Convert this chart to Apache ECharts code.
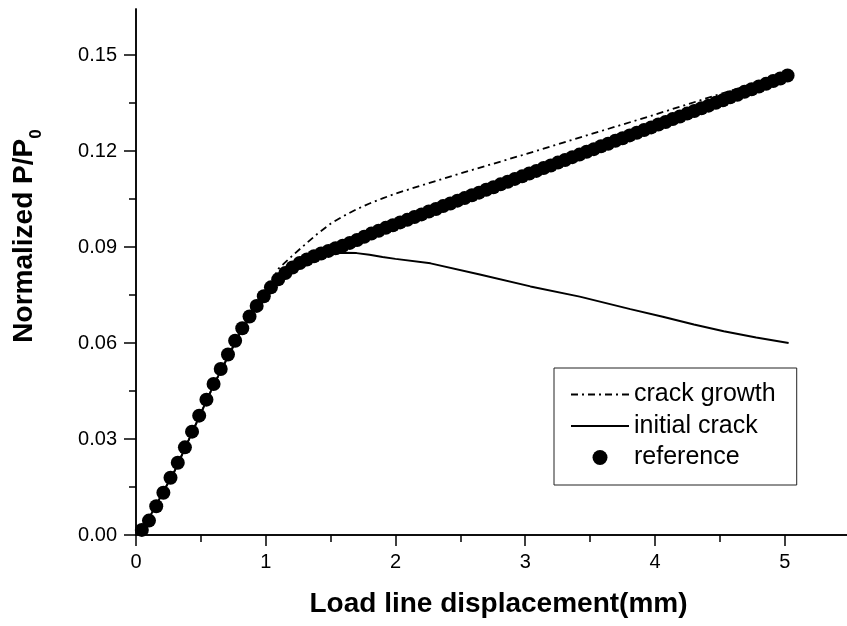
<!DOCTYPE html>
<html><head><meta charset="utf-8">
<script src="https://cdn.jsdelivr.net/npm/echarts@6/dist/echarts.min.js"></script>
<style>html,body{margin:0;padding:0;background:#fff}#c{width:847px;height:626px}</style>
</head><body><div id="c"></div>
<script>
const FONT = "'Liberation Sans', Arial, Helvetica, sans-serif";
const xTicks = [0, 1, 2, 3, 4, 5];
const yTicks = [0, 0.03, 0.06, 0.09, 0.12, 0.15];

// reference (dots)
const refX = [0.045,0.100,0.156,0.211,0.266,0.322,0.377,0.432,0.487,0.543,0.598,0.653,0.709,0.764,0.819,0.875,0.930,0.985,1.040,1.096,
1.151,1.206,1.262,1.317,1.372,1.427,1.483,1.538,1.593,1.648,1.704,1.759,1.814,1.870,1.925,1.980,2.036,2.091,2.146,2.201,
2.257,2.312,2.367,2.423,2.478,2.533,2.589,2.644,2.699,2.755,2.810,2.865,2.920,2.976,3.031,3.086,3.142,3.197,3.252,3.307,
3.363,3.418,3.473,3.529,3.584,3.639,3.695,3.750,3.805,3.860,3.916,3.971,4.026,4.082,4.137,4.192,4.248,4.303,4.358,4.413,
4.469,4.524,4.579,4.635,4.690,4.745,4.801,4.856,4.911,4.966,5.022];
const refY = [0.0016,0.0045,0.0090,0.0132,0.0179,0.0226,0.0274,0.0323,0.0373,0.0423,0.0472,0.0519,0.0564,0.0607,0.0646,0.0683,0.0716,0.0746,0.0774,0.0799,
0.0819,0.0836,0.0850,0.0861,0.0871,0.0880,0.0888,0.0896,0.0904,0.0913,0.0922,0.0932,0.0942,0.0951,0.0960,0.0968,0.0977,0.0985,0.0994,0.1002,
0.1011,0.1019,0.1028,0.1036,0.1045,0.1053,0.1062,0.1070,0.1079,0.1087,0.1096,0.1104,0.1113,0.1121,0.1130,0.1138,0.1147,0.1155,0.1164,0.1172,
0.1181,0.1189,0.1198,0.1206,0.1215,0.1223,0.1232,0.1240,0.1249,0.1257,0.1266,0.1274,0.1283,0.1291,0.1300,0.1308,0.1317,0.1325,0.1334,0.1342,
0.1351,0.1359,0.1368,0.1376,0.1385,0.1393,0.1402,0.1410,0.1419,0.1427,0.1436];

// crack growth (dash-dot)
const growthX = [0.03,0.3,0.6,0.8,0.9,1.0,1.05,1.1,1.2,1.3,1.4,1.5,1.6,1.7,1.8,1.9,2.0,2.25,2.5,2.75,3.0,3.25,3.5,3.75,4.0,4.25,4.5,4.75,5.0,5.03];
const growthY = [0.0,0.0202,0.0470,0.0630,0.0697,0.0762,0.0797,0.0833,0.0871,0.0907,0.0942,0.0973,0.0997,0.1018,0.1036,0.1052,0.1067,0.1099,0.1130,0.1160,0.1190,0.1221,0.1252,0.1283,0.1314,0.1346,0.1378,0.1409,0.1441,0.1444];

// initial crack (solid)
const initX = [0.03,0.3,0.6,0.8,0.9,1.0,1.1,1.2,1.3,1.4,1.5,1.6,1.7,1.8,1.9,2.0,2.27,2.65,3.04,3.42,3.81,4.06,4.30,4.53,4.78,5.03];
const initY = [0.0,0.0202,0.0470,0.0630,0.0695,0.0752,0.0799,0.0833,0.0857,0.0871,0.0879,0.0882,0.0881,0.0876,0.0869,0.0863,0.0849,0.0814,0.0777,0.0745,0.0706,0.0682,0.0658,0.0637,0.0617,0.0600];

const zip = (a, b) => a.map((v, i) => [v, b[i]]);

const chart = echarts.init(document.getElementById('c'), null, {renderer: 'canvas'});
const axisLine = {show: true, lineStyle: {color: '#000', width: 1.5}};
const xCommon = {type: 'value', min: 0, max: 5.48, interval: 1, splitLine: {show: false}, axisLine: axisLine};
const yCommon = {type: 'value', min: 0, max: 0.1644, interval: 0.03, splitLine: {show: false}, axisLine: axisLine};

chart.setOption({
  animation: false,
  backgroundColor: '#fff',
  textStyle: {fontFamily: FONT},
  grid: {left: 136, right: -1, top: 9, bottom: 91, containLabel: false},
  xAxis: [
    Object.assign({}, xCommon, {
      position: 'bottom',
      name: 'Load line displacement(mm)', nameLocation: 'middle', nameGap: 55,
      nameTextStyle: {fontSize: 28, fontWeight: 'bold', color: '#000', fontFamily: FONT, padding: [0, 0, 0, 14]},
      axisTick: {show: true, inside: false, length: 11, lineStyle: {color: '#000', width: 1.5}, customValues: xTicks},
      minorTick: {show: true, splitNumber: 2, length: 7, lineStyle: {color: '#000', width: 1.5}},
      axisLabel: {show: true, fontSize: 20, color: '#000', margin: 17, fontFamily: FONT, customValues: xTicks,
        formatter: v => String(v)}
    }),
    Object.assign({}, xCommon, {
      position: 'top',
      axisTick: {show: true, inside: true, length: 11, lineStyle: {color: '#000', width: 1.5}, customValues: xTicks},
      minorTick: {show: true, splitNumber: 2, length: 7, lineStyle: {color: '#000', width: 1.5}},
      axisLabel: {show: false}
    })
  ],
  yAxis: [
    Object.assign({}, yCommon, {
      position: 'left',
      axisTick: {show: true, inside: false, length: 12, lineStyle: {color: '#000', width: 1.5}, customValues: yTicks},
      minorTick: {show: true, splitNumber: 2, length: 7, lineStyle: {color: '#000', width: 1.5}},
      axisLabel: {show: true, fontSize: 20, color: '#000', margin: 19, fontFamily: FONT, customValues: yTicks,
        formatter: v => v.toFixed(2)}
    }),
    Object.assign({}, yCommon, {
      position: 'right',
      axisTick: {show: true, inside: true, length: 12, lineStyle: {color: '#000', width: 1.5}, customValues: yTicks},
      minorTick: {show: true, splitNumber: 2, length: 7, lineStyle: {color: '#000', width: 1.5}},
      axisLabel: {show: false}
    })
  ],
  legend: {
    orient: 'vertical', left: 554, top: 368,
    backgroundColor: '#fff', borderColor: '#222', borderWidth: 1, borderRadius: 0,
    padding: [14, 21, 15, 16], itemGap: 6.5, itemWidth: 58, itemHeight: 15,
    textStyle: {fontSize: 25, color: '#000', fontFamily: FONT},
    data: [
      {name: 'crack growth', itemStyle: {opacity: 0}},
      {name: 'initial crack', itemStyle: {opacity: 0}},
      {name: 'reference', icon: 'circle', itemStyle: {color: '#000', opacity: 1}}
    ]
  },
  graphic: [{
    type: 'text', x: 24, y: 236, rotation: Math.PI / 2,
    style: {
      text: '{a|Normalized P/P}{b|0}',
      align: 'center', verticalAlign: 'middle',
      rich: {
        a: {fontSize: 28, fontWeight: 'bold', fill: '#000', fontFamily: FONT},
        b: {fontSize: 17, fontWeight: 'bold', fill: '#000', fontFamily: FONT, padding: [24, 0, 0, 0]}
      }
    }
  }],
  series: [
    {name: 'crack growth', type: 'line', data: zip(growthX, growthY), symbol: 'none', smooth: false,
      lineStyle: {color: '#000', width: 1.8, type: [7, 4, 2, 4]}, itemStyle: {color: '#000'}, z: 2},
    {name: 'initial crack', type: 'line', data: zip(initX, initY), symbol: 'none',
      lineStyle: {color: '#000', width: 2, type: 'solid'}, itemStyle: {color: '#000'}, z: 2},
    {name: 'reference', type: 'scatter', data: zip(refX, refY), symbol: 'circle', symbolSize: 14,
      itemStyle: {color: '#000', opacity: 1}, z: 3}
  ]
});
</script>
</body></html>
